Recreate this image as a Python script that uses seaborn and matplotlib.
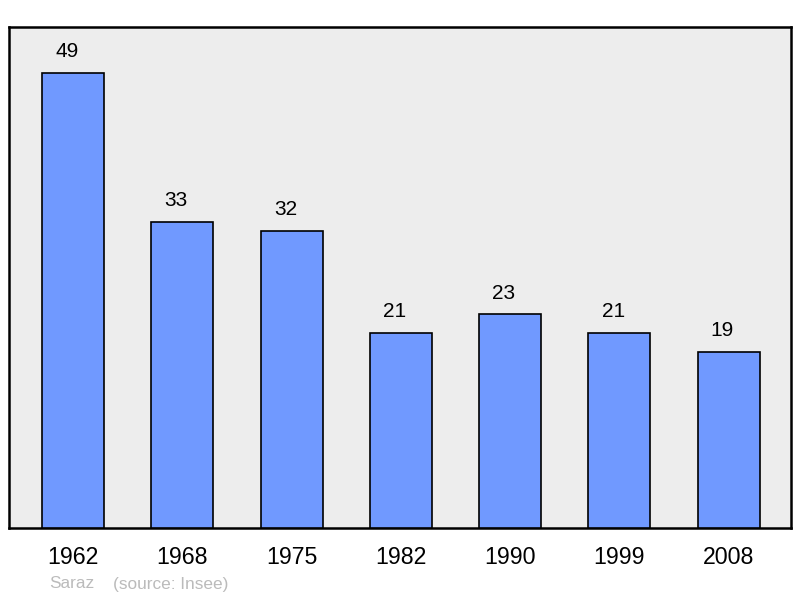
import matplotlib
matplotlib.use("Agg")
import matplotlib.pyplot as plt
import seaborn as sns
import pandas as pd

years = ["1962", "1968", "1975", "1982", "1990", "1999", "2008"]
population = [49, 33, 32, 21, 23, 21, 19]
footer_name = "Saraz"
footer_source = "(source: Insee)"

df = pd.DataFrame({"year": years, "pop": population})

sns.set_theme(style="white")
plt.rcParams['font.family'] = ['Liberation Sans', 'DejaVu Sans']

fig = plt.figure(figsize=(8, 5.98), dpi=100)
fig.patch.set_facecolor("white")
ax = fig.add_axes([9/800, 70/598, 782/800, 501/598])
ax.set_facecolor("#ededed")

sns.barplot(data=df, x="year", y="pop", ax=ax, color="#7099ff", saturation=1,
            width=0.567, edgecolor="black", linewidth=1.2, zorder=3)

ax.set_xlim(-0.586, 6.57)
ax.set_ylim(0, 53.95)
ax.set_yticks([])
ax.set_xlabel("")
ax.set_ylabel("")
ax.tick_params(axis="x", length=0, labelsize=16.7, pad=13, colors="black")
for s in ax.spines.values():
    s.set_visible(True)
    s.set_color("black")
    s.set_linewidth(1.8)

for i, v in enumerate(population):
    ax.annotate(str(v), (i, v), xytext=(-4.5, 8.5), textcoords="offset points",
                ha="center", va="bottom", fontsize=15, color="black")

fig.text(49/800, 1 - 584/598, footer_name, fontsize=12.4, color="#bbbbbb", va="center", ha="left")
fig.text(113/800, 1 - 584/598, footer_source, fontsize=12.4, color="#bbbbbb", va="center", ha="left")

fig.savefig("out.png", dpi=100)
